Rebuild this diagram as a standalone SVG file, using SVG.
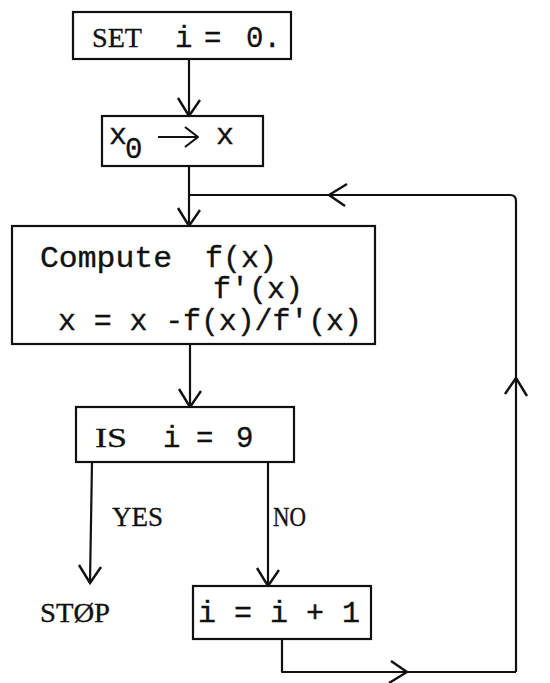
<svg xmlns="http://www.w3.org/2000/svg" width="550" height="683" viewBox="0 0 550 683">
<style>
.box{fill:#fff;stroke:#111;stroke-width:2.2}
.ln{fill:none;stroke:#111;stroke-width:2.2;stroke-linejoin:round}
.t{font-family:"Liberation Mono","DejaVu Sans Mono",monospace;font-size:29px;fill:#111;stroke:#111;stroke-width:0.35}
.c{font-size:30px}
.s{font-family:"Liberation Serif","DejaVu Serif",serif;font-size:27px;fill:#111;stroke:#111;stroke-width:0.35}
</style>
<defs>
<path id="ah" d="M-11,-18 L0,0 L11,-16" fill="none" stroke="#111" stroke-width="2.4" stroke-linejoin="miter"/>
</defs>
<rect width="550" height="683" fill="#fff"/>
<g id="connectors">
<path class="ln" d="M189,59 V116"/>
<use href="#ah" transform="translate(189,116)"/>
<path class="ln" d="M189,166 V226"/>
<use href="#ah" transform="translate(189,226)"/>
<path class="ln" d="M189,195 H510 Q516,195 516,201 V672"/>
<use href="#ah" transform="translate(329,195) rotate(90)"/>
<use href="#ah" transform="translate(516,378) rotate(180)"/>
<path class="ln" d="M190,344 V407"/>
<use href="#ah" transform="translate(190,407)"/>
<path class="ln" d="M92,462 L90,583"/>
<use href="#ah" transform="translate(90,583)"/>
<path class="ln" d="M268,462 V586"/>
<use href="#ah" transform="translate(268,586)"/>
<path class="ln" d="M282,639 V672 H516"/>
<use href="#ah" transform="translate(407,672) rotate(-90)"/>
<text class="s" x="112" y="526" textLength="51" lengthAdjust="spacingAndGlyphs">YES</text>
<text class="s" x="273" y="526" textLength="33" lengthAdjust="spacingAndGlyphs">NO</text>
</g>
<g id="set">
<rect class="box" x="73" y="12" width="218" height="47"/>
<text class="s" x="92" y="47" textLength="50" lengthAdjust="spacingAndGlyphs">SET</text>
<text class="t" y="47"><tspan x="175">i</tspan><tspan x="204">=</tspan><tspan x="246">0.</tspan></text>
</g>
<g id="init">
<rect class="box" x="102" y="116" width="161" height="50"/>
<text class="t c" x="109" y="144">x</text>
<text class="t" x="125" y="158" font-size="25px">0</text>
<text class="t c" x="216" y="144">x</text>
<path class="ln" d="M158,137 H197 M185,127 L198,137 L185,147" stroke-width="3"/>
</g>
<g id="compute">
<rect class="box" x="12" y="226" width="363" height="118"/>
<text class="t c" y="267"><tspan x="40" textLength="132" lengthAdjust="spacingAndGlyphs">Compute</tspan><tspan x="205">f(x)</tspan></text>
<text class="t c" x="213" y="298">f'(x)</text>
<text class="t c" x="58" y="330" textLength="304">x = x -f(x)/f'(x)</text>
</g>
<g id="test">
<rect class="box" x="76" y="407" width="218" height="55"/>
<text class="s" x="95" y="447" textLength="32" lengthAdjust="spacingAndGlyphs">IS</text>
<text class="t" y="447"><tspan x="163">i</tspan><tspan x="196">=</tspan><tspan x="236">9</tspan></text>
</g>
<g id="stop">
<text class="s" x="40" y="622" textLength="70" lengthAdjust="spacingAndGlyphs">STØP</text>
</g>
<g id="incr">
<rect class="box" x="193" y="586" width="178" height="53"/>
<text class="t c" x="198" y="622" textLength="162">i = i + 1</text>
</g>
</svg>
